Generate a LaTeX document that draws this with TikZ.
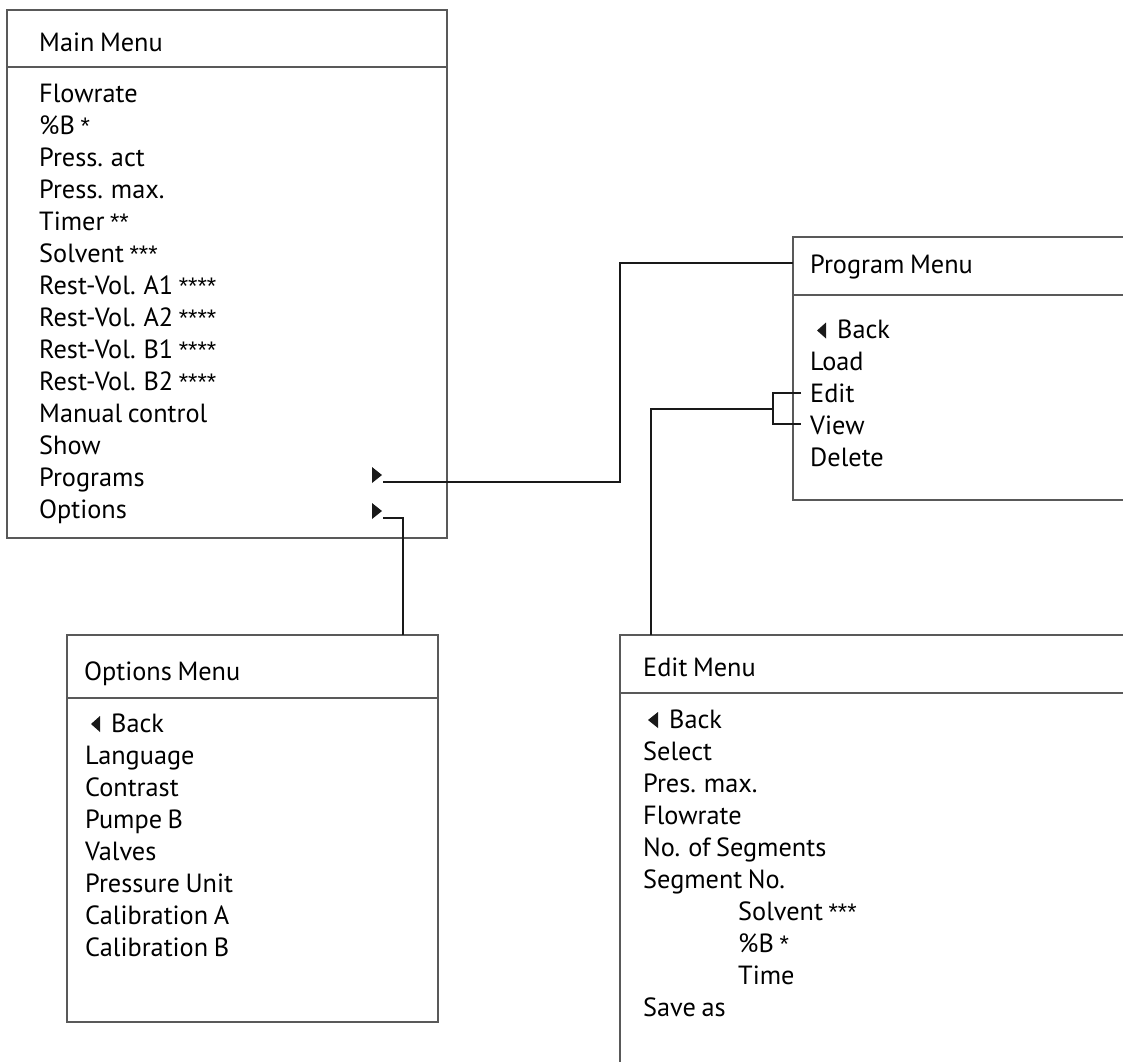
\documentclass[tikz,border=0pt]{standalone}
\usepackage{fontspec}
\setmainfont{PT Sans}[WordSpace=0.8]
\newfontfamily\astf{Liberation Sans}
\newcommand\stars[1]{{\astf\fontsize{24}{30}\selectfont #1}}
\begin{document}
\begin{tikzpicture}[x=1pt,y=-1pt,
  boxline/.style={draw=black!65,line width=1.3pt},
  conn/.style={draw=black!90,line width=1.4pt},
  txt/.style={anchor=base west,inner sep=0pt,font=\fontsize{26.3}{30}\selectfont,text=black},
  tri/.style={fill=black!90}]
\useasboundingbox (0,0) rectangle (1123,1061);
\clip (0,0) rectangle (1123,1061);

% ---------- Main Menu ----------
\draw[boxline] (7,10) rectangle (447,538);
\draw[boxline] (7,67) -- (447,67);
\node[txt] (mainT) at (39,51) {Main Menu};
\foreach \t [count=\i from 0] in {Flowrate,\%B \stars{*},Press. act,Press. max.,Timer \stars{**},Solvent \stars{***},Rest-Vol. A1 \stars{****},Rest-Vol. A2 \stars{****},Rest-Vol. B1 \stars{****},Rest-Vol. B2 \stars{****},Manual control,Show,Programs,Options}
  \node[txt] (m\i) at (39,{102+32*\i}) {\t};
\fill[tri] (372,467) -- (382,475) -- (372,483) -- cycle;
\fill[tri] (372,503) -- (382,511) -- (372,519) -- cycle;
\coordinate (pArr) at (383,482);
\coordinate (oArr) at (383,518);

% ---------- Program Menu ----------
\draw[boxline] (1130,237) -- (793,237) -- (793,500) -- (1130,500);
\draw[boxline] (793,295) -- (1130,295);
\node[txt] (progT) at (810,273) {Program Menu};
\fill[tri] (826,322.5) -- (817,330.5) -- (826,338.5) -- cycle;
\node[txt] (pBack) at (837,338) {Back};
\node[txt] (pLoad) at (810,370) {Load};
\node[txt] (pEdit) at (810,402) {Edit};
\node[txt] (pView) at (810,434) {View};
\node[txt] (pDel) at (810,466) {Delete};
\coordinate (progIn) at (793,263);

% ---------- Options Menu ----------
\draw[boxline] (67,635) rectangle (438,1022);
\draw[boxline] (67,698) -- (438,698);
\node[txt] (optT) at (84,680) {Options Menu};
\fill[tri] (100,716) -- (91,724) -- (100,732) -- cycle;
\node[txt] (oBack) at (111,732) {Back};
\foreach \t [count=\i from 1] in {Language,Contrast,Pumpe B,Valves,Pressure Unit,Calibration A,Calibration B}
  \node[txt] (o\i) at (85,{732+32*\i}) {\t};
\coordinate (optTop) at (403,635);

% ---------- Edit Menu ----------
\draw[boxline] (1130,635) -- (620,635) -- (620,1070);
\draw[boxline] (620,693) -- (1130,693);
\node[txt] (editT) at (643,676) {Edit Menu};
\fill[tri] (658,712) -- (648,720) -- (658,728) -- cycle;
\node[txt] (eBack) at (669,728) {Back};
\node[txt] (eSel) at (643,760) {Select};
\node[txt] (ePres) at (643,792) {Pres. max.};
\node[txt] (eFlow) at (643,824) {Flowrate};
\node[txt] (eNo) at (643,856) {No. of Segments};
\node[txt] (eSeg) at (643,888) {Segment No.};
\node[txt] (eSolv) at (738,920) {Solvent \stars{***}};
\node[txt] (eB) at (738,952) {\%B \stars{*}};
\node[txt] (eTime) at (738,984) {Time};
\node[txt] (eSave) at (643,1016) {Save as};
\coordinate (editTop) at (651,635);

% ---------- Connectors ----------
\draw[conn] (pArr) -- ++(237,0) |- (progIn);
\draw[conn] (oArr) -| (optTop);
\coordinate (editTick) at (801,393);
\coordinate (viewTick) at (801,424);
\coordinate (brk) at (773,409);
\draw[conn] (editTick) -| (brk) |- (viewTick);
\draw[conn] (brk) -| (editTop);
\end{tikzpicture}
\end{document}
